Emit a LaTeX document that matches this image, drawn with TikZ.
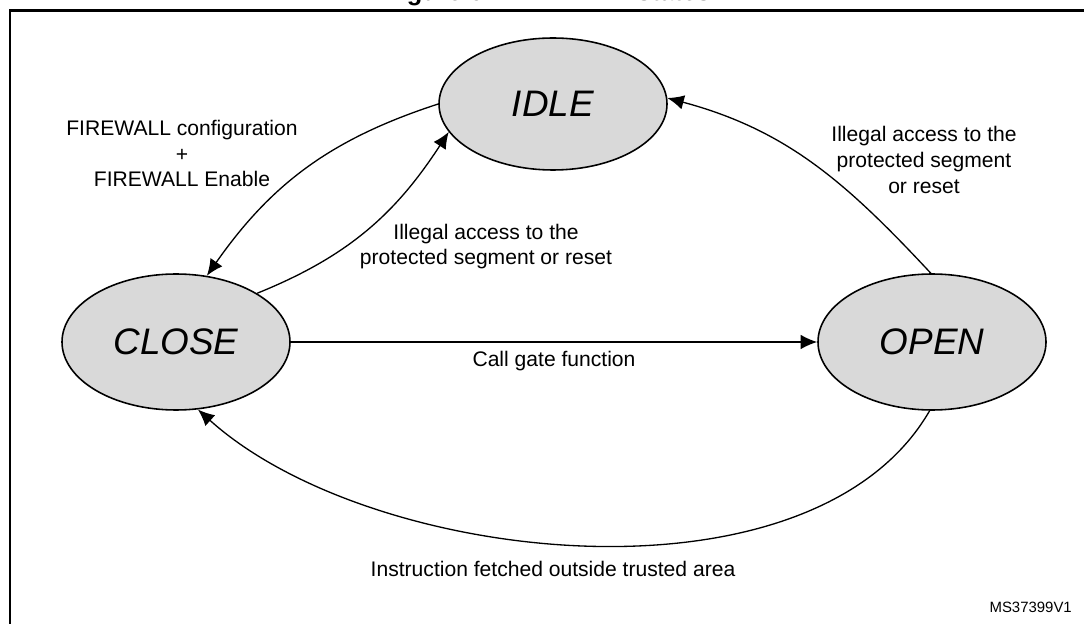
\documentclass[tikz,border=0pt]{standalone}
\usepackage{fontspec}
\setmainfont{Liberation Sans}
\usetikzlibrary{arrows.meta,shapes.geometric}
\definecolor{stategray}{RGB}{217,217,217}
\tikzset{
  fwstate/.style={ellipse,draw,line width=0.9pt,fill=stategray,minimum width=4.56cm,minimum height=2.72cm,inner sep=0pt,font=\fontsize{21}{25}\selectfont\itshape},
  trans/.style={-{Latex[length=3.3mm,width=2.9mm]},line width=0.75pt},
  lbl/.style={align=center,font=\fontsize{12}{14.6}\selectfont}
}
\begin{document}
\begin{tikzpicture}
  \useasboundingbox (0,0) rectangle (21.68,-12.48);
  \draw[line width=1.3pt] (0.2,-13) -- (0.2,-0.21) -- (22,-0.21);
  \node[anchor=base,font=\fontsize{14.5}{17}\selectfont\bfseries] (title) at (10.95,-0.01) {Figure 6. FIREWALL states};
  % states
  \node[fwstate,minimum height=2.64cm] (idle) at (11.06,-2.08) {IDLE};
  \node[fwstate] (close) at (3.52,-6.84) {CLOSE};
  \node[fwstate] (open) at (18.64,-6.84) {OPEN};
  % labels
  \node[lbl] (cfglbl) at (3.64,-3.07) {FIREWALL configuration\\+\\FIREWALL Enable};
  \node[lbl] (illmid) at (9.72,-4.93) {Illegal access to the\\protected segment or reset};
  \node[lbl] (illright) at (18.48,-3.2) {Illegal access to the\\protected segment\\or reset};
  \node[lbl] (gatelbl) at (11.08,-7.22) {Call gate function};
  \node[lbl] (fetchlbl) at (11.06,-11.38) {Instruction fetched outside trusted area};
  \node[anchor=east,font=\fontsize{8.5}{10}\selectfont] (msref) at (21.56,-12.14) {MS37399V1};
  % transitions
  \draw[trans] (close.east) -- (open.west);
  \draw[trans] (idle.180) to[out=198,in=55] (close.65);
  \draw[trans] (close.31) to[out=22,in=237] (idle.195);
  \draw[trans] (open.91) to[out=133,in=-15] (idle.3);
  \draw[trans] (open.268) to[out=240,in=-42,looseness=0.82] (close.288);
\end{tikzpicture}
\end{document}
